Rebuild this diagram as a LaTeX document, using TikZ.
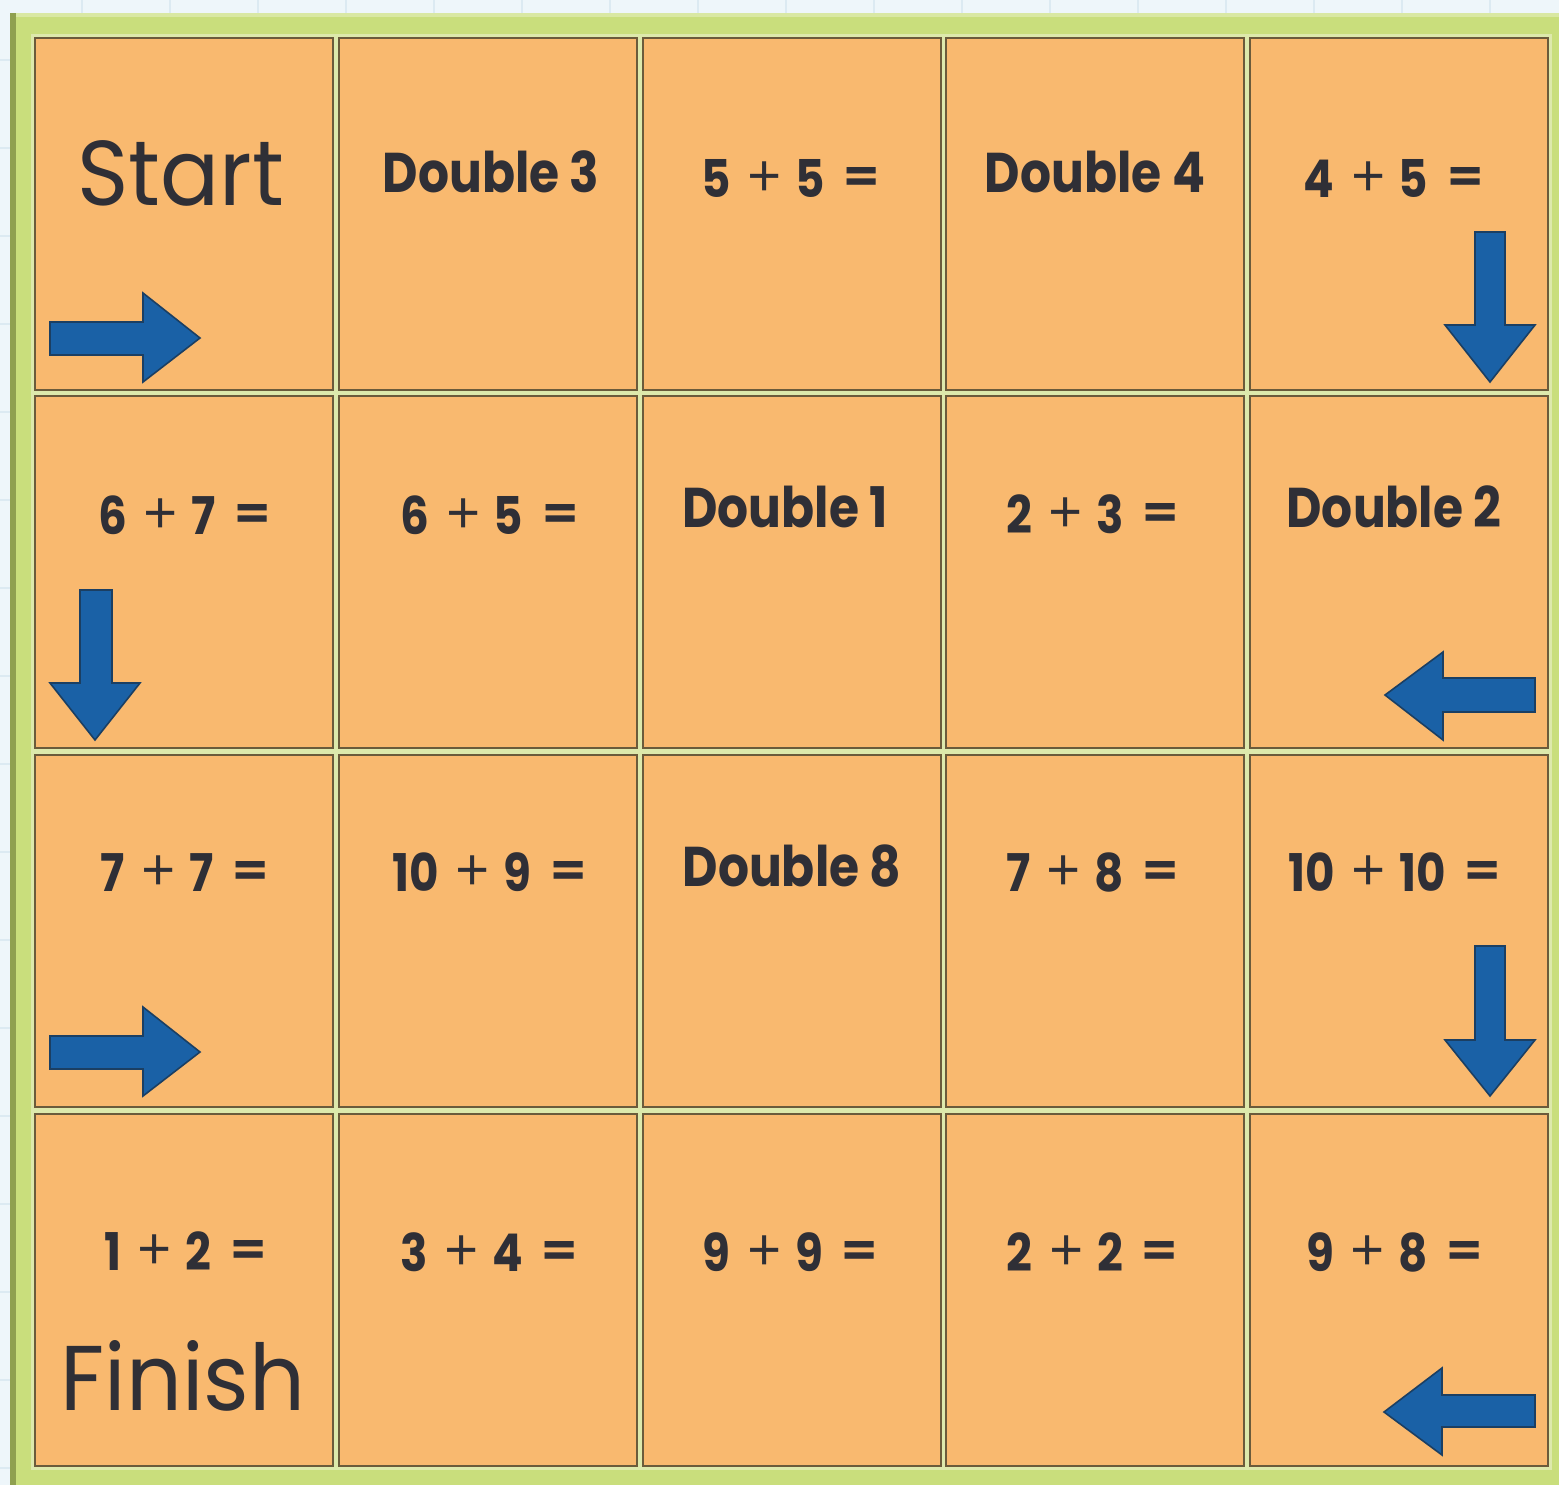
\documentclass[tikz,border=0pt]{standalone}
\usepackage{fontspec}
\setmainfont{Poppins}[FakeStretch=0.87]
\newfontfamily\bigfont{Poppins}[FakeStretch=0.95]
\newfontfamily\opfont{Open Sans}
\definecolor{bgblue}{HTML}{EEF6FA}
\definecolor{gridblue}{HTML}{DCEAF2}
\definecolor{framegreen}{HTML}{C9DE7C}
\definecolor{framedark}{HTML}{8FA050}
\definecolor{gapcol}{HTML}{DDE9AC}
\definecolor{cellfill}{HTML}{F9B96F}
\definecolor{celledge}{HTML}{6B5B3B}
\definecolor{arrowfill}{HTML}{1A61A6}
\definecolor{arrowedge}{HTML}{1B3F63}
\definecolor{txt}{HTML}{2F2F36}
\tikzset{
  cell/.style={draw=celledge, line width=1.4pt, fill=cellfill, minimum width=149pt, minimum height=176pt, inner sep=0pt},
  lbl/.style={anchor=base, text=txt, font=\fontsize{28pt}{30pt}\selectfont\bfseries, inner sep=0pt},
  eqn/.style={anchor=base, text=txt, font=\fontsize{26pt}{30pt}\selectfont\bfseries, inner sep=0pt},
  big/.style={anchor=base, text=txt, font=\fontsize{46pt}{50pt}\selectfont\bigfont, inner sep=0pt},
  blockarrow/.style={fill=arrowfill, draw=arrowedge, line width=0.8pt, line join=miter}
}
\newcommand{\plusop}{\hspace{0.32em}{\opfont\mdseries\fontsize{30pt}{30pt}\selectfont +}\hspace{0.26em}}
\newcommand{\eqop}{\hspace{0.38em}{\opfont\fontsize{30pt}{30pt}\selectfont\bfseries =}}
\begin{document}
\begin{tikzpicture}[x=0.5pt,y=-0.5pt]
\useasboundingbox (0,0) rectangle (1559,1485);
% background with faint grid
\fill[bgblue] (0,0) rectangle (1559,1485);
\foreach \gx in {82,170,258,346,434,522,610,698,786,874,962,1050,1138,1226,1314,1402,1490}
  \draw[gridblue, line width=0.6pt] (\gx,0) -- (\gx,1485);
\foreach \gy in {60,148,236,324,412,500,588,676,764,852,940,1028,1116,1204,1292,1380,1468}
  \draw[gridblue, line width=0.6pt] (0,\gy) -- (1559,\gy);
% green frame
\fill[framegreen] (10,13) rectangle (1559,1485);
\fill[framedark] (10,13) rectangle (16,1485);
\fill[framegreen!70!white] (16,13) rectangle (1559,17);
\fill[gapcol] (31,34) rectangle (1552,1470);
% cells
\foreach \r/\cy in {1/214,2/572,3/931,4/1290}{
  \foreach \c/\cx in {1/184,2/488,3/792,4/1095,5/1399}{
    \node[cell] (c\r\c) at (\cx,\cy) {};
  }
}
% row 1
\node[big] (t11) at (181,205) {Start};
\node[lbl] (t12) at (491,192) {Double 3};
\node[eqn] (t13) at (790,197) {5\plusop 5\eqop};
\node[lbl] (t14) at (1095,192) {Double 4};
\node[eqn] (t15) at (1393,197) {4\plusop 5\eqop};
% row 2
\node[eqn] (t21) at (184,534) {6\plusop 7\eqop};
\node[eqn] (t22) at (489,534) {6\plusop 5\eqop};
\node[lbl] (t23) at (785,527) {Double 1};
\node[eqn] (t24) at (1092,533) {2\plusop 3\eqop};
\node[lbl] (t25) at (1394,527) {Double 2};
% row 3
\node[eqn] (t31) at (184,891) {7\plusop 7\eqop};
\node[eqn] (t32) at (489,891) {10\plusop 9\eqop};
\node[lbl] (t33) at (792,886) {Double 8};
\node[eqn] (t34) at (1092,891) {7\plusop 8\eqop};
\node[eqn] (t35) at (1394,891) {10\plusop 10\eqop};
% row 4
\node[eqn] (t41) at (185,1270) {1\plusop 2\eqop};
\node[eqn] (t42) at (489,1271) {3\plusop 4\eqop};
\node[eqn] (t43) at (790,1271) {9\plusop 9\eqop};
\node[eqn] (t44) at (1092,1271) {2\plusop 2\eqop};
\node[eqn] (t45) at (1394,1271) {9\plusop 8\eqop};
\node[big] (t46) at (183,1410) {Finish};
% arrows
\draw[blockarrow] (50,322) -- (143,322) -- (143,293) -- (200,338) -- (143,382) -- (143,355) -- (50,355) -- cycle;
\draw[blockarrow] (50,1036) -- (143,1036) -- (143,1007) -- (200,1052) -- (143,1096) -- (143,1069) -- (50,1069) -- cycle;
\draw[blockarrow] (1475,232) -- (1505,232) -- (1505,325) -- (1535,325) -- (1490,382) -- (1445,325) -- (1475,325) -- cycle;
\draw[blockarrow] (80,590) -- (112,590) -- (112,683) -- (140,683) -- (95,740) -- (50,683) -- (80,683) -- cycle;
\draw[blockarrow] (1475,946) -- (1505,946) -- (1505,1040) -- (1535,1040) -- (1490,1096) -- (1445,1040) -- (1475,1040) -- cycle;
\draw[blockarrow] (1535,678) -- (1443,678) -- (1443,652) -- (1385,695) -- (1443,740) -- (1443,712) -- (1535,712) -- cycle;
\draw[blockarrow] (1535,1395) -- (1442,1395) -- (1442,1368) -- (1384,1412) -- (1442,1455) -- (1442,1427) -- (1535,1427) -- cycle;
\end{tikzpicture}
\end{document}
